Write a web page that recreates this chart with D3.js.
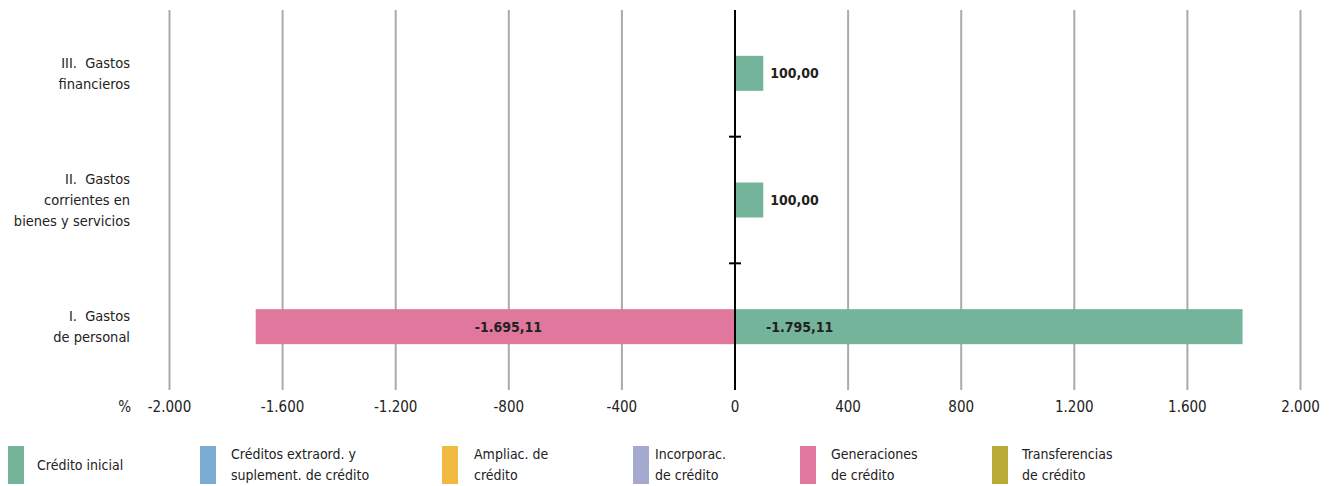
<!DOCTYPE html>
<html><head><meta charset="utf-8">
<script src="https://cdn.jsdelivr.net/npm/d3@7"></script>
<style>
body{margin:0;background:#fff;}
svg text{font-family:"DejaVu Sans Condensed","Liberation Sans Narrow","Roboto",sans-serif;fill:#222;}
</style></head><body>
<svg id="c" width="1331" height="486"></svg>
<script>
const categories = ["III. Gastos|financieros","II. Gastos|corrientes en|bienes y servicios","I. Gastos|de personal"];
const creditoInicial = [100, 100, 1795.11];
const creditoInicialLabels = ["100,00","100,00","-1.795,11"];
const generaciones = [0, 0, -1695.11];
const generacionesLabels = ["","","-1.695,11"];
const tickValues = [-2000,-1600,-1200,-800,-400,0,400,800,1200,1600,2000];
const tickLabels = ["-2.000","-1.600","-1.200","-800","-400","0","400","800","1.200","1.600","2.000"];
const legendNames = ["Crédito inicial","Créditos extraord. y|suplement. de crédito","Ampliac. de|crédito","Incorporac.|de crédito","Generaciones|de crédito","Transferencias|de crédito"];
const legendColors = ["#74b49b","#7bacd4","#f0b942","#a5a9ce","#e0779c","#b9ab38"];

const svg = d3.select("#c");
const x = d3.scaleLinear().domain([-2000,2000]).range([169.5,1300.5]);
const y = d3.scaleBand().domain(categories).range([10,390]);
const barH = 35;

// gridlines
svg.append("g").selectAll("line").data(tickValues.filter(d=>d!==0)).join("line")
  .attr("x1",d=>x(d)).attr("x2",d=>x(d)).attr("y1",10).attr("y2",390)
  .attr("stroke","#aaaaaa").attr("stroke-width",2);

// bars
const g = svg.append("g");
function drawSeries(vals, color){
  g.selectAll(null).data(vals.map((v,i)=>({v,c:categories[i]})).filter(d=>d.v!==0)).join("rect")
   .attr("x",d=>Math.min(x(0),x(d.v))).attr("width",d=>Math.abs(x(d.v)-x(0)))
   .attr("y",d=>y(d.c)+y.bandwidth()/2-barH/2).attr("height",barH).attr("fill",color);
}
drawSeries(creditoInicial, legendColors[0]);
drawSeries(generaciones, legendColors[4]);

// zero axis
svg.append("line").attr("x1",x(0)).attr("x2",x(0)).attr("y1",10).attr("y2",390).attr("stroke","#000").attr("stroke-width",2);
svg.append("g").selectAll("line").data(categories.slice(1)).join("line")
  .attr("x1",x(0)-6).attr("x2",x(0)+6).attr("y1",d=>y(d)).attr("y2",d=>y(d)).attr("stroke","#000").attr("stroke-width",2);

// value labels
const lab = svg.append("g").attr("font-size",14).attr("font-weight","bold");
creditoInicial.forEach((v,i)=>{
  const cy = y(categories[i])+y.bandwidth()/2;
  const small = Math.abs(x(v)-x(0)) < 100;
  lab.append("text").attr("x", small ? x(v)+7 : x(0)+31).attr("y",cy).attr("dy","0.35em")
    .attr("text-anchor","start").text(creditoInicialLabels[i]);
});
generaciones.forEach((v,i)=>{
  if(v===0) return;
  const cy = y(categories[i])+y.bandwidth()/2;
  lab.append("text").attr("x",x(v/2)+13).attr("y",cy).attr("dy","0.35em")
    .attr("text-anchor","middle").text(generacionesLabels[i]);
});

// category labels
categories.forEach(c=>{
  const lines = c.split("|");
  const cy = y(c)+y.bandwidth()/2;
  const lh = 21;
  const t = svg.append("text").attr("text-anchor","end").attr("font-size",14.5);
  lines.forEach((l,k)=>{
    t.append("tspan").attr("x",130).attr("y",cy + (k-(lines.length-1)/2)*lh).attr("dy","0.35em").text(l.replace(". ",".\u00a0 "));
  });
});

// x tick labels
svg.append("g").selectAll("text").data(tickValues).join("text")
  .attr("x",d=>x(d)).attr("y",407).attr("dy","0.35em").attr("text-anchor","middle").attr("font-size",15)
  .text((d,i)=>tickLabels[i]);
svg.append("text").attr("x",131).attr("y",407).attr("dy","0.35em").attr("text-anchor","end").attr("font-size",15).text("%");

// legend
const legX = [8,200,442,633,800,992];
const legTextX = [37,231,474,655,831,1022];
legendNames.forEach((n,i)=>{
  svg.append("rect").attr("x",legX[i]).attr("y",446).attr("width",16).attr("height",38).attr("fill",legendColors[i]);
  const lines = n.split("|");
  const t = svg.append("text").attr("font-size",14);
  lines.forEach((l,k)=>{
    t.append("tspan").attr("x",legTextX[i]).attr("y",465+(k-(lines.length-1)/2)*21).attr("dy","0.35em").text(l);
  });
});
</script></body></html>
